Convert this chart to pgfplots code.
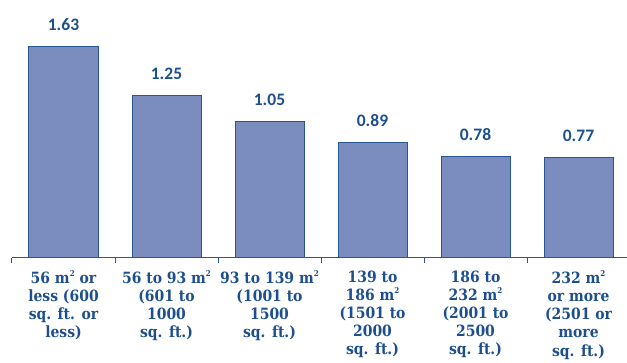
\documentclass[border=0pt]{standalone}
\usepackage{pgfplots}
\pgfplotsset{compat=1.18}
\usepackage{fontspec}
\setmainfont{Carlito}
\newfontfamily\slab{DejaVu Serif Condensed}
\definecolor{barfill}{HTML}{7B8DBF}
\definecolor{baredge}{HTML}{2A5595}
\definecolor{txtblue}{HTML}{1D4F8E}
% small superscript two for square metres
\newcommand{\sq}{\raisebox{0.85ex}{\fontsize{8}{8}\selectfont 2}}
\begin{document}
\begin{tikzpicture}
\begin{axis}[
  at={(0pt,0pt)}, anchor=south west,
  scale only axis,
  width=618pt, height=234pt,
  xmin=-0.5, xmax=5.5, ymin=0, ymax=1.8,
  axis x line=bottom, axis y line=none,
  axis line style={draw=baredge, line width=1pt, -},
  xtick={0,1,2,3,4,5},
  major tick length=0pt,
  minor xtick={-0.5,0.5,1.5,2.5,3.5,4.5},
  minor tick length=5pt,
  tick align=outside,
  minor tick style={draw=baredge, line width=1pt},
  xticklabels={
    {56 m\sq{} or\\less (600\\sq. ft. or\\less)},
    {56 to 93 m\sq\\(601 to\\1000\\sq. ft.)},
    {93 to 139 m\sq\\(1001 to\\1500\\sq. ft.)},
    {139 to\\186 m\sq\\(1501 to\\2000\\sq. ft.)},
    {186 to\\232 m\sq\\(2001 to\\2500\\sq. ft.)},
    {232 m\sq\\or more\\(2501 or\\more\\sq. ft.)}},
  xticklabel style={align=center, text=txtblue, font=\slab\bfseries\fontsize{15.5}{18.2}\selectfont, yshift=-9pt},
  bar width=69pt,
  nodes near coords,
  point meta=explicit symbolic,
  nodes near coords style={text=txtblue, font=\bfseries\fontsize{17.5}{19}\selectfont, yshift=12pt},
]
\addplot[ybar, fill=barfill, draw=baredge, line width=1pt] coordinates {
  (0,1.63) [1.63]
  (1,1.25) [1.25]
  (2,1.05) [1.05]
  (3,0.89) [0.89]
  (4,0.78) [0.78]
  (5,0.77) [0.77]
};
\end{axis}
\pgfresetboundingbox
\useasboundingbox (-12pt,-105pt) rectangle (615pt,258pt);
\end{tikzpicture}
\end{document}
